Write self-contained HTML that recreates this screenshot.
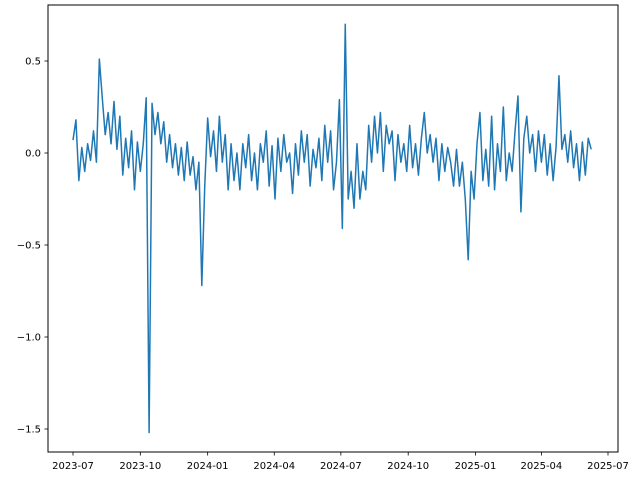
<!DOCTYPE html>
<html><head><meta charset="utf-8"><style>
html,body{margin:0;padding:0;background:#fff;}
svg{display:block;font-family:"DejaVu Sans","Liberation Sans",sans-serif;}
</style></head><body>
<svg id="chart" width="640" height="480">
<rect x="0" y="0" width="640" height="480" fill="#fff"/>
<g id="plot"></g>
</svg>
<script>
const startDate = "2023-07-01";
const stepDays = 4;
const values = [0.07,0.18,-0.15,0.03,-0.1,0.05,-0.04,0.12,-0.05,0.51,0.3,0.1,0.22,0.05,0.28,0.02,0.2,-0.12,0.08,-0.08,
0.12,-0.2,0.06,-0.1,0.05,0.3,-1.52,0.27,0.1,0.22,0.05,0.17,-0.05,0.1,-0.08,0.05,-0.12,0.03,-0.15,0.06,
-0.12,-0.02,-0.2,-0.05,-0.72,-0.18,0.19,-0.02,0.12,-0.1,0.2,-0.05,0.1,-0.2,0.05,-0.15,0.0,-0.2,0.05,-0.08,
0.1,-0.15,0.0,-0.2,0.05,-0.05,0.12,-0.18,0.04,-0.25,0.08,-0.1,0.1,-0.05,0.0,-0.22,0.05,-0.12,0.12,-0.05,
0.1,-0.18,0.02,-0.08,0.08,-0.15,0.15,-0.05,0.12,-0.2,-0.05,0.29,-0.41,0.7,-0.25,-0.1,-0.3,0.05,-0.25,-0.1,
-0.2,0.15,-0.05,0.2,0.0,0.22,-0.1,0.15,0.05,0.12,-0.15,0.1,-0.05,0.05,-0.1,0.15,-0.08,0.05,-0.12,0.08,
0.22,0.0,0.1,-0.05,0.08,-0.15,0.05,-0.1,0.03,-0.05,-0.18,0.02,-0.18,-0.05,-0.25,-0.58,-0.1,-0.25,0.05,0.22,
-0.15,0.02,-0.18,0.2,-0.2,0.05,-0.1,0.25,-0.15,0.0,-0.1,0.12,0.31,-0.32,0.08,0.2,0.0,0.1,-0.1,0.12,
-0.05,0.1,-0.12,0.05,-0.15,0.03,0.42,0.02,0.1,-0.05,0.12,-0.08,0.05,-0.15,0.06,-0.12,0.08,0.02];
const xTickLabels = ["2023-07","2023-10","2024-01","2024-04","2024-07","2024-10","2025-01","2025-04","2025-07"];
const yTickValues = [0.5,0.0,-0.5,-1.0,-1.5];
const yTickLabels = ["0.5","0.0","\u22120.5","\u22121.0","\u22121.5"];

const NS="http://www.w3.org/2000/svg";
const L=48,R=618,T=5,B=452;
const DAY=86400000;
const t0=Date.parse("2023-07-01"), t1=Date.parse("2025-07-01");
function xScale(t){return 73+(t-t0)/(t1-t0)*535;}
function yScale(v){return 153-v*184;}
const plot=document.getElementById('plot');
function el(tag,attrs,parent){const e=document.createElementNS(NS,tag);for(const k in attrs)e.setAttribute(k,attrs[k]);(parent||plot).appendChild(e);return e;}

const s0=Date.parse(startDate);
let d="";
values.forEach((v,i)=>{const x=xScale(s0+i*stepDays*DAY),y=yScale(v);d+=(i?"L":"M")+x.toFixed(2)+","+y.toFixed(2);});
const line=el('path',{d:d,fill:"none",stroke:"#1f77b4","stroke-width":1.5,"stroke-linejoin":"round"});



const frame=el('rect',{x:L,y:T,width:R-L,height:B-T,fill:"none",stroke:"#000","stroke-width":1});



xTickLabels.forEach(lbl=>{
  const x=xScale(Date.parse(lbl+"-01"));
  const tk=el('line',{x1:x,x2:x,y1:B,y2:B+3.5,stroke:"#000","stroke-width":0.8});
  
  
  const tx=el('text',{x:x,y:B+17,"text-anchor":"middle","font-size":10,fill:"#000"});
  tx.textContent=lbl;
  
  
});
yTickValues.forEach((v,i)=>{
  const y=yScale(v);
  const tk=el('line',{x1:L-3.5,x2:L,y1:y,y2:y,stroke:"#000","stroke-width":0.8});
  
  
  const tx=el('text',{x:L-7,y:y+3.5,"text-anchor":"end","font-size":10,fill:"#000"});
  tx.textContent=yTickLabels[i];
  
  
});
</script>
</body></html>
